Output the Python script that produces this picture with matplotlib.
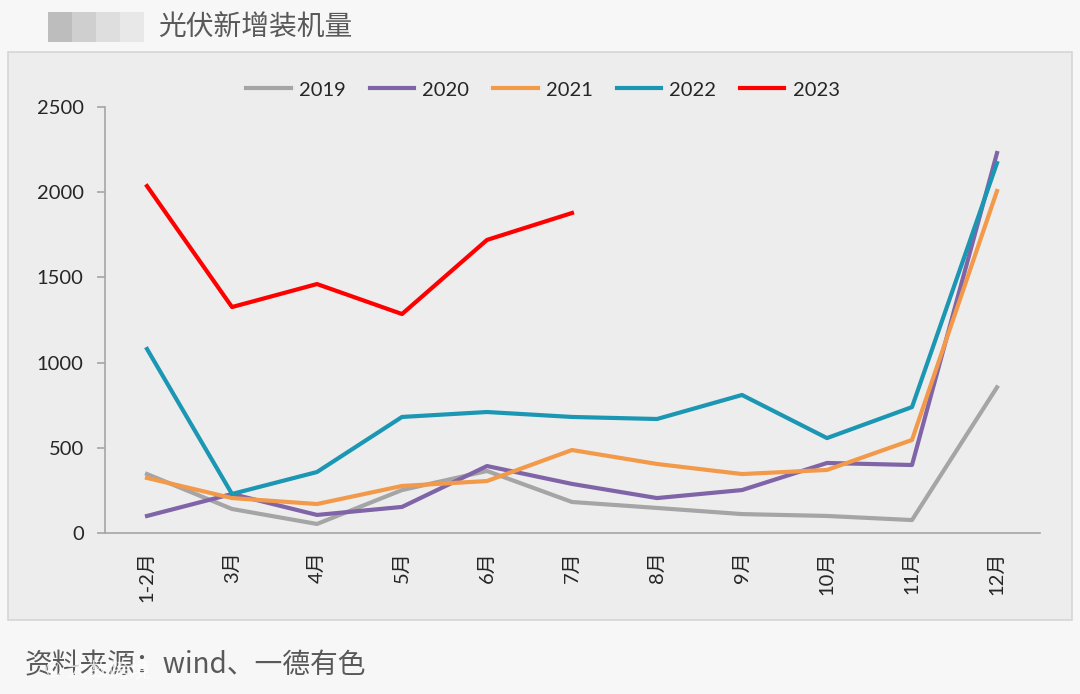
import matplotlib
matplotlib.use('Agg')
import matplotlib.pyplot as plt
from matplotlib.patches import Rectangle

plt.rcParams['font.family'] = ['Lato', 'Noto Sans CJK SC', 'DejaVu Sans']

months = ['1-2月', '3月', '4月', '5月', '6月', '7月', '8月', '9月', '10月', '11月', '12月']
y2019 = [346, 141, 53, 252, 364, 182, 147, 111, 100, 76, 855]
y2020 = [100, 229, 106, 153, 393, 288, 205, 252, 411, 399, 2230]
y2021 = [323, 205, 170, 276, 305, 487, 405, 346, 370, 546, 2007]
y2022 = [1080, 229, 358, 681, 710, 681, 669, 810, 557, 739, 2171]
y2023 = [2036, 1326, 1461, 1285, 1720, 1878]

fig = plt.figure(figsize=(10.8, 6.94), dpi=100)
fig.patch.set_facecolor('#f7f7f7')

# chart box
W, H = 1080., 694.
fig.patches.append(Rectangle((8/W, 1-620/H), 1064/W, 568/H, transform=fig.transFigure,
                             facecolor='#eeeded', edgecolor='#d6d6d6', lw=1.2, zorder=-5))

# blurred logo
for i, c in enumerate(['#bdbdbd', '#cfcfcf', '#dedede', '#e8e8e8']):
    fig.patches.append(Rectangle(((48+i*24)/W, 1-42/H), 24/W, 30/H, transform=fig.transFigure,
                                 facecolor=c, edgecolor='none', zorder=-5))

fig.text(158/W, 1-28/H, '光伏新增装机量', fontsize=20, color='#595959',
         family=['Noto Sans CJK SC', 'DejaVu Sans'], va='center', ha='left')
fig.text(25/W, 1-665/H, '资料来源：wind、一德有色', fontsize=20, color='#595959',
         family=['Noto Sans CJK SC', 'DejaVu Sans'], va='center', ha='left')
fig.text(45/W, 1-672/H, '© 大数跨境', fontsize=15, color='white', alpha=0.8,
         family=['Noto Sans CJK SC', 'DejaVu Sans'], va='center', ha='left')

ax = fig.add_axes([104.5/W, 161/H, 935/W, 426/H])
ax.set_facecolor('none')
x = list(range(len(months)))

ax.plot(x, y2019, color='#a5a5a5', lw=3, label='2019')
ax.plot(x, y2020, color='#8064a8', lw=3, label='2020')
ax.plot(x, y2021, color='#f29a4a', lw=3, label='2021')
ax.plot(x, y2022, color='#1b96b3', lw=3, label='2022')
ax.plot(x[:len(y2023)], y2023, color='#ff0000', lw=3, label='2023')

ax.set_xlim(-0.5, len(months)-0.5)
ax.set_ylim(0, 2500)
ax.set_yticks([0, 500, 1000, 1500, 2000, 2500])
ax.set_xticks(x)
ax.set_xticklabels(months, rotation=90, fontsize=14.5, color='#262626')
ax.tick_params(axis='y', labelsize=14.5, labelcolor='#262626', color='#a6a6a6', length=6, width=1.2, pad=9)
ax.tick_params(axis='x', length=0, pad=13)
for s in ['top', 'right']:
    ax.spines[s].set_visible(False)
for s in ['left', 'bottom']:
    ax.spines[s].set_color('#a6a6a6')
    ax.spines[s].set_linewidth(1.2)

ax.legend(loc='center', bbox_to_anchor=(543/W, 1-90/H), bbox_transform=fig.transFigure,
          ncol=5, frameon=False, fontsize=14.5, handlelength=2.2, handletextpad=0.4,
          columnspacing=1.2, labelcolor='#262626')

plt.savefig('out.png', dpi=100, facecolor=fig.get_facecolor())
